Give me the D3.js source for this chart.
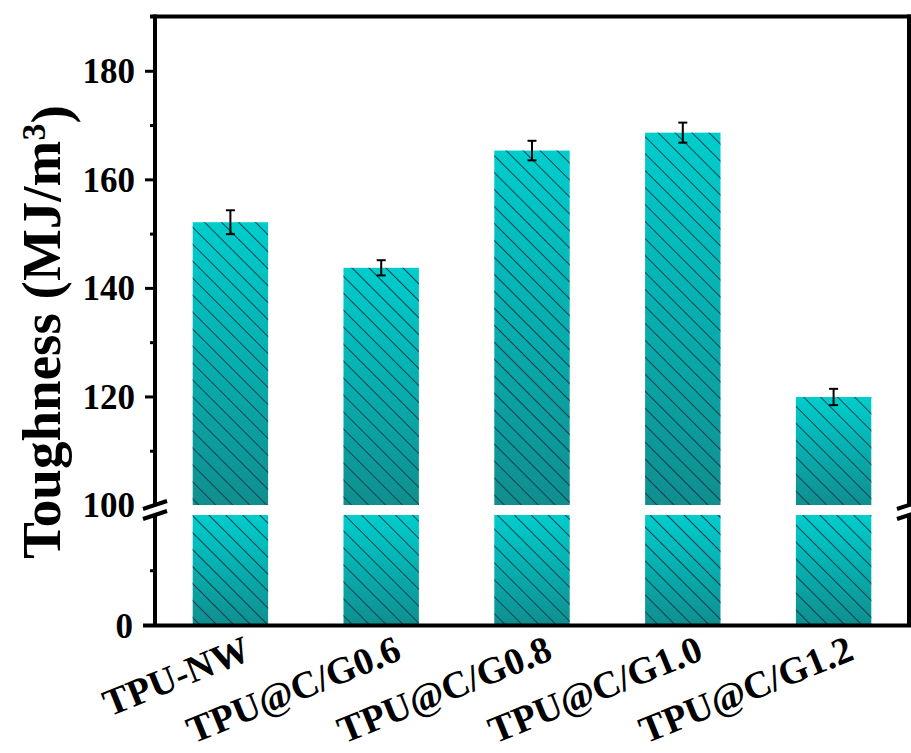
<!DOCTYPE html>
<html>
<head>
<meta charset="utf-8">
<script src="https://cdn.jsdelivr.net/npm/d3@7/dist/d3.min.js"></script>
<style>
  html, body { margin: 0; padding: 0; background: #fff; }
  svg { display: block; }
  text { font-family: "Liberation Serif", "Times New Roman", serif; font-weight: bold; fill: #000; }
</style>
</head>
<body>
<svg id="chart" width="911" height="753"></svg>
<script>
const categories = ["TPU-NW", "TPU@C/G0.6", "TPU@C/G0.8", "TPU@C/G1.0", "TPU@C/G1.2"];
const values = [152.1, 143.7, 165.3, 168.6, 119.9];
const errors = [2.2, 1.4, 1.8, 1.85, 1.5];
const upperTicks = [100, 120, 140, 160, 180];
const upperMinor = [110, 130, 150, 170];
const lowerTicks = [0];
const lowerMinor = [10];
const upperDomain = [100, 190];
const lowerDomain = [0, 20];

(function () {
const svg = d3.select("#chart");
const pLeft = 155, pRight = 909, pTop = 16.5, pBottom = 625.5;
const breakUp = 505, breakLow = 515;

const x = d3.scaleBand().domain(categories).range([pLeft, pRight]).paddingInner(0.5).paddingOuter(0.25);
const yUp = d3.scaleLinear().domain(upperDomain).range([breakUp, pTop]);
const yLow = d3.scaleLinear().domain(lowerDomain).range([pBottom, breakLow]);

const defs = svg.append("defs");
const grad = defs.append("linearGradient").attr("id", "barGrad")
  .attr("x1", 0).attr("y1", 0).attr("x2", 0).attr("y2", 1);
grad.append("stop").attr("offset", "0%").attr("stop-color", "#00cdcd");
grad.append("stop").attr("offset", "100%").attr("stop-color", "#108e8e");

const pat = defs.append("pattern").attr("id", "hatch")
  .attr("patternUnits", "userSpaceOnUse").attr("width", 12).attr("height", 12)
  .attr("patternTransform", "rotate(45)");
pat.append("line").attr("x1", 0).attr("y1", 0.5).attr("x2", 12).attr("y2", 0.5)
  .attr("stroke", "#123f52").attr("stroke-width", 1);

const data = categories.map((c, i) => ({ c, v: values[i], e: errors[i] }));

const gUp = svg.append("g");
["url(#barGrad)", "url(#hatch)"].forEach(f => {
  gUp.append("g").selectAll("rect").data(data).join("rect")
    .attr("x", d => x(d.c)).attr("width", x.bandwidth())
    .attr("y", d => yUp(d.v)).attr("height", d => yUp(upperDomain[0]) - yUp(d.v))
    .attr("fill", f);
});

const gLow = svg.append("g");
["url(#barGrad)", "url(#hatch)"].forEach(f => {
  gLow.append("g").selectAll("rect").data(data).join("rect")
    .attr("x", d => x(d.c)).attr("width", x.bandwidth())
    .attr("y", yLow(lowerDomain[1])).attr("height", yLow(lowerDomain[0]) - yLow(lowerDomain[1]))
    .attr("fill", f);
});

const gE = svg.append("g").attr("stroke", "#000").attr("stroke-width", 2);
data.forEach(d => {
  const cx = x(d.c) + x.bandwidth() / 2;
  gE.append("line").attr("x1", cx).attr("x2", cx).attr("y1", yUp(d.v + d.e)).attr("y2", yUp(d.v - d.e));
  gE.append("line").attr("x1", cx - 4.5).attr("x2", cx + 4.5).attr("y1", yUp(d.v + d.e)).attr("y2", yUp(d.v + d.e));
  gE.append("line").attr("x1", cx - 4.5).attr("x2", cx + 4.5).attr("y1", yUp(d.v - d.e)).attr("y2", yUp(d.v - d.e));
});

const gF = svg.append("g").attr("stroke", "#000").attr("stroke-width", 4).attr("fill", "none");
gF.append("line").attr("x1", 150).attr("x2", 911).attr("y1", pTop).attr("y2", pTop);
gF.append("line").attr("x1", 143).attr("x2", 911).attr("y1", pBottom).attr("y2", pBottom);
gF.append("line").attr("x1", pLeft).attr("x2", pLeft).attr("y1", pTop - 2).attr("y2", breakUp - 1);
gF.append("line").attr("x1", pLeft).attr("x2", pLeft).attr("y1", breakLow + 1).attr("y2", pBottom);
gF.append("line").attr("x1", pRight).attr("x2", pRight).attr("y1", pTop - 2).attr("y2", breakUp - 1);
gF.append("line").attr("x1", pRight).attr("x2", pRight).attr("y1", breakLow + 1).attr("y2", pBottom);

[pLeft, pRight].forEach(ax => {
  [breakUp, breakLow].forEach(by => {
    gF.append("line").attr("x1", ax - 12).attr("x2", ax + 12)
      .attr("y1", by + 4).attr("y2", by - 4);
  });
});

const axUp = d3.axisLeft(yUp).tickValues(upperTicks).tickSize(10).tickPadding(10).tickFormat(d3.format("d"));
const gAU = svg.append("g").attr("transform", `translate(${pLeft},0)`).call(axUp);
gAU.select(".domain").remove();
gAU.selectAll(".tick line").attr("stroke", "#000").attr("stroke-width", 3);
gAU.selectAll(".tick text").style("font-size", "35px").attr("dy", "0.34em");
gAU.selectAll(".tick").filter(d => d === 100).select("line").remove();

const axUpMinor = d3.axisLeft(yUp).tickValues(upperMinor).tickSize(5).tickFormat("");
const gAUm = svg.append("g").attr("transform", `translate(${pLeft},0)`).call(axUpMinor);
gAUm.select(".domain").remove();
gAUm.selectAll(".tick line").attr("stroke", "#000").attr("stroke-width", 3);

const axLow = d3.axisLeft(yLow).tickValues(lowerTicks).tickSize(0).tickPadding(22).tickFormat(d3.format("d"));
const gAL = svg.append("g").attr("transform", `translate(${pLeft},0)`).call(axLow);
gAL.select(".domain").remove();
gAL.selectAll(".tick text").style("font-size", "35px").attr("dy", "0.34em");

const axLowMinor = d3.axisLeft(yLow).tickValues(lowerMinor).tickSize(5).tickFormat("");
const gALm = svg.append("g").attr("transform", `translate(${pLeft},0)`).call(axLowMinor);
gALm.select(".domain").remove();
gALm.selectAll(".tick line").attr("stroke", "#000").attr("stroke-width", 3);

const gX = svg.append("g");
categories.forEach(c => {
  const cx = x(c) + x.bandwidth() / 2 + 22;
  gX.append("text").attr("transform", `translate(${cx},659) rotate(-22)`)
    .attr("text-anchor", "end").style("font-size", "38px").text(c);
});

const title = svg.append("text").attr("transform", "translate(60,332) rotate(-90)")
  .attr("text-anchor", "middle").style("font-size", "55px");
title.append("tspan").text("Toughness (MJ/m");
title.append("tspan").attr("dy", "-0.45em").style("font-size", "34px").text("3");
title.append("tspan").attr("dy", "0.45em").text(")");
})();
</script>
</body>
</html>
